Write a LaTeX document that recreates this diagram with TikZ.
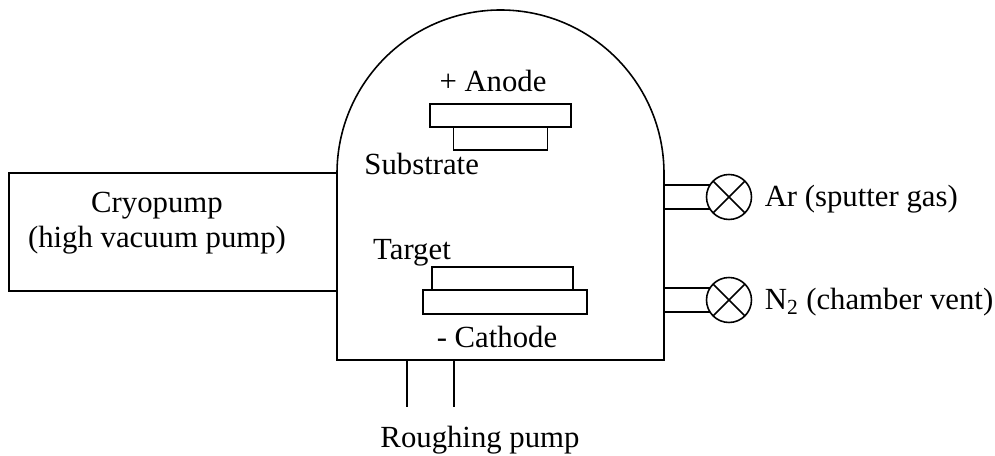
\documentclass[tikz,border=0pt]{standalone}
\usepackage{fontspec}
\setmainfont{Liberation Serif}
\usetikzlibrary{positioning, calc}

\begin{document}
\begin{tikzpicture}[
	x=0.02cm, y=0.02cm,
	line width=0.9pt,
	% --- Styles ---
	plate/.style={
		rectangle, draw, inner sep=0pt, outer sep=0pt, minimum height=0.46cm
	},
	valve/.style={
		circle, draw, inner sep=0pt, outer sep=0pt, minimum size=0.9cm
	},
	lbl/.style={
		font=\fontsize{17.5}{21}\selectfont, anchor=base, inner sep=0pt
	},
	sidelbl/.style={
		lbl, anchor=base west
	}
	]
	\useasboundingbox (0,0) rectangle (995,456);
	
	% --- 1. Chamber ---
	\coordinate (chamber_bl) at (337,96);
	\coordinate (chamber_br) at (664,96);
	\draw (chamber_br) -- (664,282.5) arc[start angle=0, end angle=180, radius=163.5] -- (chamber_bl) -- cycle;
	
	% --- 2. Anode side ---
	\node [plate, minimum width=2.82cm] (anode) at (500.5,340.5) {};
	\node [plate, minimum width=1.88cm, below=0pt of anode] (substrate) {};
	\node [lbl] (anode_lbl) at (493,364.5) {+ Anode};
	\node [lbl] (substrate_lbl) at (421.7,281) {Substrate};
	
	% --- 3. Cathode side ---
	\node [plate, minimum width=3.28cm, minimum height=0.48cm] (cathode) at (505,154) {};
	\node [plate, minimum width=2.82cm, above=0pt of cathode, xshift=-0.05cm] (target) {};
	\node [lbl] (target_lbl) at (412,196.5) {Target};
	\node [lbl] (cathode_lbl) at (497,108.5) {- Cathode};
	
	% --- 4. Cryopump ---
	\node [rectangle, draw, inner sep=0pt, outer sep=0pt, minimum width=6.56cm, minimum height=2.36cm] (cryo) at (173,224) {};
	\node [lbl] (cryo_lbl) at (157,243) {Cryopump};
	\node [lbl] (hivac_lbl) at (157,208) {(high vacuum pump)};
	
	% --- 5. Roughing line ---
	\coordinate (rough_left) at (407,49);
	\coordinate (rough_right) at (454,49);
	\draw (rough_left) -- (rough_left |- chamber_bl);
	\draw (rough_right) -- (rough_right |- chamber_bl);
	\node [lbl] (rough_lbl) at (480,8.5) {Roughing pump};
	
	% --- 6. Gas valves ---
	\node [valve] (ar_valve) at (729,259) {};
	\node [valve] (n_valve) at (729,156) {};
	\foreach \v in {ar_valve, n_valve} {
		\draw (\v.45) -- (\v.225);
		\draw (\v.135) -- (\v.315);
		\draw (\v.148) -- (\v.148 -| chamber_br);
		\draw (\v.212) -- (\v.212 -| chamber_br);
	}
	\node [sidelbl] (ar_lbl) at (764,249) {Ar (sputter gas)};
	\node [sidelbl] (n_lbl) at (764,146) {N\textsubscript{2} (chamber vent)};
	
\end{tikzpicture}
\end{document}
